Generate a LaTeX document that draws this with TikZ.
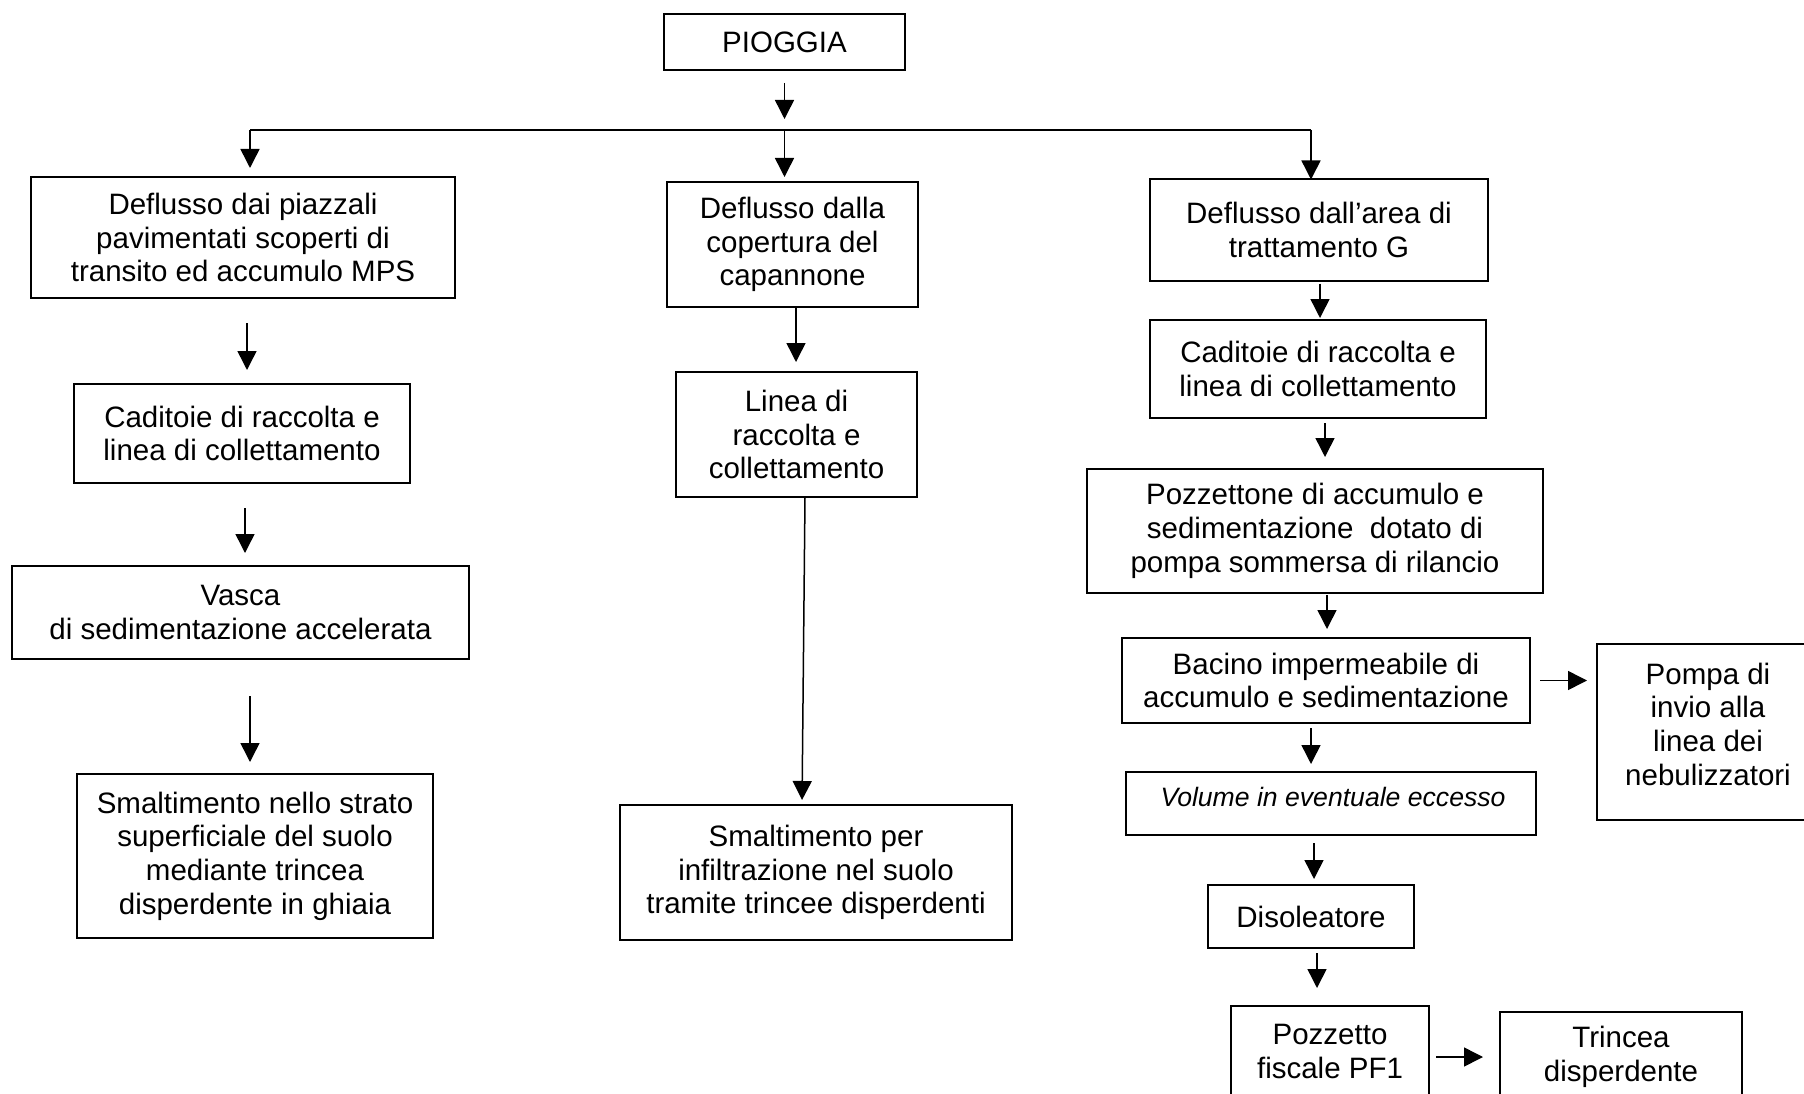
\documentclass[tikz,border=0pt]{standalone}
\usepackage{fontspec}
\setmainfont{Liberation Sans}
\usetikzlibrary{positioning, arrows.meta}
\tikzset{
	node distance = 40pt,
	box/.style={
		draw,
		line width=2pt,
		align=center,
		inner sep=0pt,
		outer sep=0pt,
		font=\fontsize{29.5}{33.7}\selectfont
	},
	boxtext/.style={
		align=center,
		inner sep=0pt,
		font=\fontsize{29.5}{33.7}\selectfont
	},
	flow/.style={
		-{Triangle[length=19pt, width=19pt]},
		line width=1.5pt
	},
	bus/.style={
		line width=2.4pt
	}
}

\begin{document}
\begin{tikzpicture}[x=1pt, y=-1pt]
\useasboundingbox (0,0) rectangle (1804,1094);

\node[box, minimum width=241pt, minimum height=56pt] (pioggia) at (784.5,42) {PIOGGIA};

% ---
% left column
% ---
\node[box, minimum width=424pt, minimum height=121pt] (L1) at (243,237.5) {Deflusso dai piazzali\\pavimentati scoperti di\\transito ed accumulo MPS};
\node[box, below=86pt of L1, xshift=-1pt, minimum width=336pt, minimum height=99pt] (L2) {Caditoie di raccolta e\\linea di collettamento};
\node[box, below=83pt of L2, xshift=-1.5pt, minimum width=457pt, minimum height=93pt] (L3) {Vasca\\di sedimentazione accelerata};
\node[box, below=115pt of L3, xshift=14.5pt, minimum width=356pt, minimum height=164pt] (L4) {Smaltimento nello strato\\superficiale del suolo\\mediante trincea\\disperdente in ghiaia};

% ---
% middle column
% ---
\node[box, minimum width=251pt, minimum height=125pt] (M1) at (792.5,244.5) {Deflusso dalla\\copertura del\\capannone};
\node[box, below=65pt of M1, xshift=4pt, minimum width=241pt, minimum height=125pt] (M2) {Linea di\\raccolta e\\collettamento};
\node[box, below=308pt of M2, xshift=19.5pt, minimum width=392pt, minimum height=135pt] (M3) {Smaltimento per\\infiltrazione nel suolo\\tramite trincee disperdenti};

% ---
% right column
% ---
\node[box, minimum width=338pt, minimum height=101pt] (R1) at (1319,230) {Deflusso dall’area di\\trattamento G};
\node[box, below=39.5pt of R1, xshift=-1pt, minimum width=336pt, minimum height=98pt] (R2) {Caditoie di raccolta e\\linea di collettamento};
\node[box, below=51pt of R2, xshift=-3pt, minimum width=456pt, minimum height=124pt] (R3) {Pozzettone di accumulo e\\sedimentazione\ \ dotato di\\pompa sommersa di rilancio};
\node[box, below=45pt of R3, xshift=11pt, minimum width=408pt, minimum height=85pt] (R4) {Bacino impermeabile di\\accumulo e sedimentazione};
\node[box, below=49pt of R4, xshift=5pt, minimum width=410pt, minimum height=63pt] (R5) {};
\node[boxtext, font=\fontsize{26.6}{30}\selectfont\itshape] (R5 text) at ([xshift=2pt, yshift=6.5pt]R5.center) {Volume in eventuale eccesso};
\node[box, below=50pt of R5, xshift=-20pt, minimum width=206pt, minimum height=63pt] (R6) {Disoleatore};
\node[box, below=58pt of R6, xshift=19pt, minimum width=198pt, minimum height=91pt] (R7) {Pozzetto\\fiscale PF1};
\node[box, right=67pt of R4, yshift=-51.5pt, minimum width=222pt, minimum height=176pt] (pompa) {};
\node[boxtext] (pompa text) at ([yshift=8pt]pompa.center) {Pompa di\\invio alla\\linea dei\\nebulizzatori};
\node[box, right=71pt of R7, yshift=-5.5pt, minimum width=242pt, minimum height=90pt] (trincea) {Trincea\\disperdente};

% ---
% Distribution
% ---
\coordinate (busL) at (250,130);
\coordinate (busR) at (1311,130);
\draw[flow, shorten <=13pt, shorten >=11pt] (pioggia) -- (pioggia |- busL);
\draw[bus] (busL) -- (busR);
\draw[flow, shorten >=9pt] (busL) -- (busL |- L1.north);
\draw[flow, shorten >=5pt] (pioggia |- busL) -- (pioggia |- M1.north);
\draw[flow] (busR) -- (busR |- R1.north);

% ---
% Transitions
% ---
\foreach \a/\b/\s/\e/\x in {L1/L2/25pt/14pt/4pt, L2/L3/25pt/13pt/3pt, L3/L4/37pt/12pt/9.5pt,
	M1/M2/1pt/10pt/3.5pt,
	R1/R2/3pt/2pt/1pt, R2/R3/5pt/12pt/7pt, R3/R4/2pt/9pt/12pt,
	R4/R5/5pt/8pt/-15pt, R5/R6/8pt/6pt/-17pt, R6/R7/5pt/18pt/6pt} {
	\draw[flow, shorten <=\s, shorten >=\e] ([xshift=\x]\a.south) -- ([xshift=\x]\a.south |- \b.north);
}
\draw[flow, shorten <=1pt, shorten >=5pt] ([xshift=8.5pt]M2.south) -- ([xshift=-14pt]M3.north);
\draw[flow, shorten <=10pt, shorten >=10pt] (R4.east) -- (R4.east -| pompa.west);
\draw[flow, shorten <=7pt, shorten >=17pt] ([yshift=-5.5pt]R7.east) -- ([yshift=-5.5pt]R7.east -| trincea.west);
\end{tikzpicture}
\end{document}
